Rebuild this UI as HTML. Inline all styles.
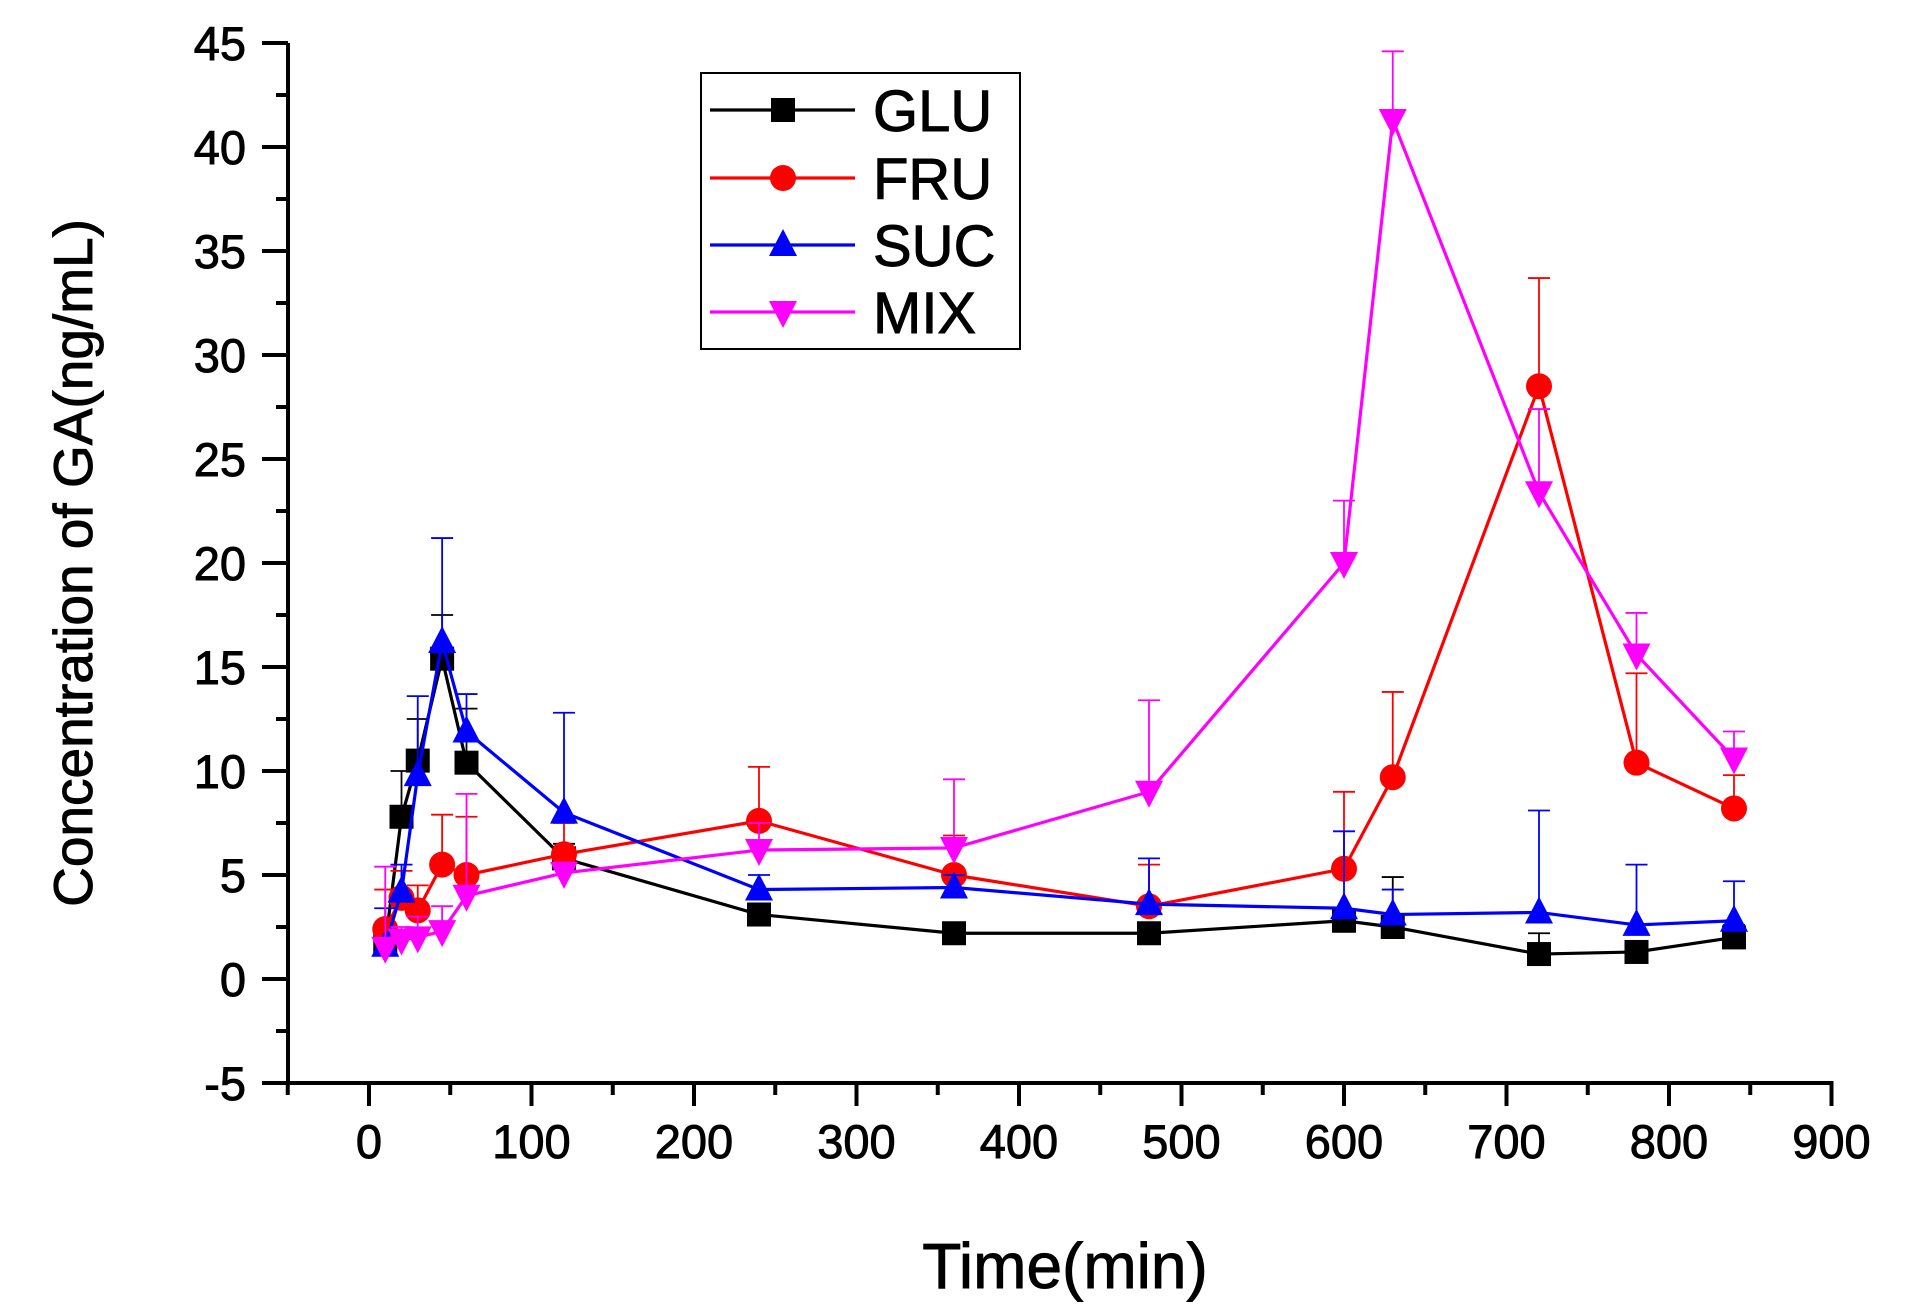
<!DOCTYPE html>
<html><head><meta charset="utf-8"><style>
body{margin:0;background:#fff}
svg{display:block}
text{font-family:"Liberation Sans",Arial,sans-serif;stroke:#000;stroke-width:0.9}
</style></head><body>
<svg id="s" width="1910" height="1310" viewBox="0 0 1910 1310" xmlns="http://www.w3.org/2000/svg"></svg>
<script>
const s=document.getElementById('s');
const X=v=>369+v*1.625, Y=v=>1083-(v+5)*20.8;
let h='';
h+=`<line x1="288" y1="43" x2="288" y2="1083" stroke="#000" stroke-width="4"/>`;
h+=`<line x1="286" y1="1083" x2="${X(900)+2}" y2="1083" stroke="#000" stroke-width="4"/>`;
for(let v=-5;v<=45;v+=2.5){const y=Y(v);const maj=(v%5===0);
 h+=`<line x1="${maj?262:276}" y1="${y}" x2="288" y2="${y}" stroke="#000" stroke-width="4"/>`;
 if(maj)h+=`<text x="246" y="${y+17}" font-size="47" text-anchor="end">${v}</text>`;}
for(let v=-50;v<=900;v+=50){const x=X(v);const maj=(v%100===0);
 h+=`<line x1="${x}" y1="1083" x2="${x}" y2="${maj?1106:1095}" stroke="#000" stroke-width="4"/>`;
 if(maj)h+=`<text x="${x}" y="1158" font-size="47" text-anchor="middle">${v}</text>`;}
h+=`<text x="1065" y="1288" font-size="64" text-anchor="middle">Time(min)</text>`;
h+=`<text transform="translate(92,563) rotate(-90)" font-size="55" text-anchor="middle">Concentration of GA(ng/mL)</text>`;
const xs=[10,20,30,45,60,120,240,360,480,600,630,720,780,840];
const S=[
 {c:'#000',m:'sq',y:[1.7,7.8,10.5,15.4,10.4,5.8,3.1,2.2,2.2,2.8,2.5,1.2,1.3,2.0],e:[2.5,10,12.5,17.5,13,6.5,3.6,2.6,2.6,3.2,4.9,2.2,1.8,2.6]},
 {c:'#f00',m:'ci',y:[2.4,3.9,3.3,5.5,5.0,6.0,7.6,5.0,3.5,5.3,9.7,28.5,10.4,8.2],e:[4.3,5.2,4.5,7.9,7.8,7.5,10.2,6.9,5.5,9.0,13.8,33.7,14.7,9.8]},
 {c:'#00f',m:'up',y:[1.6,4.2,9.8,16.2,11.9,8.0,4.3,4.4,3.6,3.4,3.1,3.2,2.6,2.8],e:[3.4,5.5,13.6,21.2,13.7,12.8,5.0,5.0,5.8,7.1,4.3,8.1,5.5,4.7]},
 {c:'#f0f',m:'dn',y:[1.5,1.9,2.0,2.3,4.0,5.1,6.2,6.3,9.0,20.0,41.3,23.4,15.6,10.6],e:[5.4,2.5,3.0,3.5,8.9,5.6,7.5,9.6,13.4,23.0,44.6,27.4,17.6,11.9]}];
function mk(m,x,y,c){
 if(m==='sq')return `<rect x="${x-12}" y="${y-12}" width="24" height="24" fill="${c}"/>`;
 if(m==='ci')return `<circle cx="${x}" cy="${y}" r="13" fill="${c}"/>`;
 if(m==='up')return `<polygon points="${x},${y-16} ${x-14},${y+11} ${x+14},${y+11}" fill="${c}"/>`;
 return `<polygon points="${x},${y+16} ${x-14},${y-11} ${x+14},${y-11}" fill="${c}"/>`;}
for(const sr of S){
 xs.forEach((v,i)=>{const x=X(v),y=Y(sr.y[i]),ye=Y(sr.e[i]);
  h+=`<line x1="${x}" y1="${y}" x2="${x}" y2="${ye}" stroke="${sr.c}" stroke-width="1.8"/><line x1="${x-11}" y1="${ye}" x2="${x+11}" y2="${ye}" stroke="${sr.c}" stroke-width="1.8"/>`;});
 h+=`<polyline points="${xs.map((v,i)=>X(v)+','+Y(sr.y[i])).join(' ')}" fill="none" stroke="${sr.c}" stroke-width="3.2"/>`;
 xs.forEach((v,i)=>{h+=mk(sr.m,X(v),Y(sr.y[i]),sr.c);});
}
h+=`<rect x="701" y="73" width="319" height="276" fill="#fff" stroke="#000" stroke-width="2"/>`;
const names=['GLU','FRU','SUC','MIX'];const ly=[110,178,245,312];
S.forEach((sr,i)=>{h+=`<line x1="710" y1="${ly[i]}" x2="855" y2="${ly[i]}" stroke="${sr.c}" stroke-width="3.2"/>`+mk(sr.m,783,ly[i],sr.c)+
 `<text x="873" y="${ly[i]+21}" font-size="58">${names[i]}</text>`;});
s.innerHTML=h;
</script>
</body></html>
